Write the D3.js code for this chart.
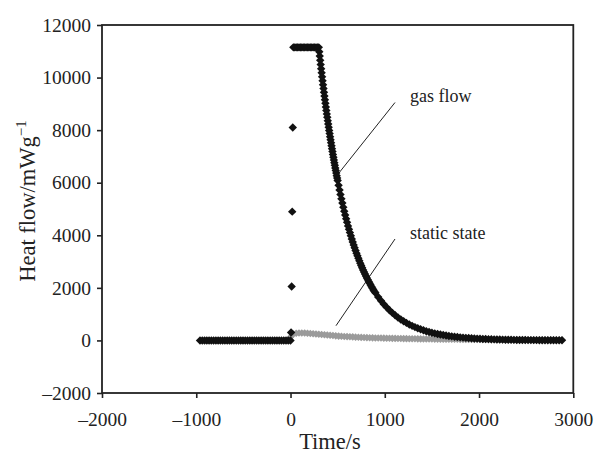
<!DOCTYPE html>
<html>
<head>
<meta charset="utf-8">
<script src="https://cdn.jsdelivr.net/npm/d3@7"></script>
<style>
  body { margin: 0; background: #fff; }
  svg { display: block; font-family: "Liberation Serif", "Times New Roman", serif; }
</style>
</head>
<body>
<div id="chart"></div>
<script>
// Gas flow series (time in s, heat flow in mW/g)
const baselineTime = [-960,-936,-912,-888,-864,-840,-816,-792,-768,-744,-720,-696,-672,-648,-624,-600,-576,-552,-528,-504,-480,-456,-432,-408,-384,-360,-336,-312,-288,-264,-240,-216,-192,-168,-144,-120,-96,-72,-48,-24,0];
const baselineFlow = [0,0,0,0,0,0,0,0,0,0,0,0,0,0,0,0,0,0,0,0,0,0,0,0,0,0,0,0,0,0,0,0,0,0,0,0,0,0,0,0,0];
const jumpTime = [6,12,18,24];
const jumpFlow = [300,2050,4900,8100];
const plateauTime = [30,45,60,75,90,105,120,135,150,165,180,195,210,225,240,255,270,285,300];
const plateauFlow = [11150,11150,11150,11150,11150,11150,11150,11150,11150,11150,11150,11150,11150,11150,11150,11150,11150,11150,11150];
const decayTime = [305,310,315,320,325,330,335,340,345,350,355,360,365,370,375,380,385,390,395,400,
  405,410,415,420,425,430,435,440,445,450,455,460,465,470,475,480,485,490,495,500,
  510,520,530,540,550,560,570,580,590,600,610,620,630,640,650,660,670,680,690,700,
  710,720,730,740,750,760,770,780,790,800,810,820,830,840,850,860,870,880,890,900,
  930,960,990,1020,1050,1080,1110,1140,1170,1200,1230,1260,1290,1320,1350,1380,1410,1440,1470,1500,
  1530,1560,1590,1620,1650,1680,1710,1740,1770,1800,1830,1860,1890,1920,1950,1980,2010,2040,2070,2100,
  2130,2160,2190,2220,2250,2280,2310,2340,2370,2400,2430,2460,2490,2520,2550,2580,2610,2640,2670,2700,
  2730,2760,2790,2820,2850,2880];
const decayFlow = [10982,10817,10655,10494,10336,10181,10028,9877,9729,9582,9438,9296,9157,9019,8883,8750,8618,8488,8361,8235,
  8111,7989,7869,7751,7634,7520,7406,7295,7185,7077,6971,6866,6763,6661,6561,6462,6365,6269,6175,6082,
  5900,5724,5553,5387,5226,5070,4919,4772,4630,4492,4358,4228,4102,3980,3861,3746,3634,3526,3421,3319,
  3220,3124,3031,2940,2852,2767,2684,2604,2526,2451,2378,2307,2238,2171,2106,2043,1982,1923,1866,1810,
  1653,1509,1378,1258,1149,1049,958,875,799,729,666,608,555,507,463,423,386,352,322,294,
  268,245,224,204,187,170,156,142,130,118,108,99,90,82,75,69,63,57,52,48,
  44,40,36,33,30,27,25,23,21,19,17,16,15,13,12,11,10,9,8,8,
  7,6,6,5,5,4];

// Static state series
const staticTime = [0,30,60,90,120,150,180,210,240,270,300,330,360,390,420,450,480,510,540,570,
  600,630,660,690,720,750,780,810,840,870,900,930,960,990,1020,1050,1080,1110,1140,1170,
  1200,1230,1260,1290,1320,1350,1380,1410,1440,1470,1500,1530,1560,1590,1620,1650,1680,1710,1740,1770,
  1800,1830,1860,1890,1920,1950,1980,2010,2040,2070,2100,2130,2160,2190,2220,2250,2280,2310,2340,2370,
  2400,2430,2460,2490,2520,2550,2580,2610,2640,2670,2700,2730,2760,2790,2820,2850,2880];
const staticFlow = [130,240,275,285,285,280,275,265,255,245,235,225,215,205,195,185,175,165,160,150,
  145,140,135,125,120,115,110,105,100,98,95,92,90,87,85,82,80,78,75,73,
  70,68,66,64,62,60,58,57,55,54,52,51,50,48,47,46,45,44,43,42,
  41,40,39,38,37,36,35,34,34,33,32,31,31,30,29,29,28,27,27,26,
  26,25,25,24,24,23,23,22,22,21,21,20,20,20,19,19,18];

const xTicks = [-2000,-1000,0,1000,2000,3000];
const yTicks = [-2000,0,2000,4000,6000,8000,10000,12000];

const width = 597, height = 455;
const margin = { top: 25, right: 24, bottom: 62, left: 102 };
const serif = "'Liberation Serif', 'Times New Roman', serif";

const svg = d3.select("#chart").append("svg")
    .attr("width", width).attr("height", height);

const x = d3.scaleLinear().domain([-2000, 3000]).range([margin.left, width - margin.right + 0.3]);
const y = d3.scaleLinear().domain([-2000, 12000]).range([height - margin.bottom, margin.top]);

const zip = (ts, vs) => ts.map((t, i) => ({ t: t, v: vs[i] }));
const gasData = [].concat(
    zip(baselineTime, baselineFlow),
    zip(jumpTime, jumpFlow),
    zip(plateauTime, plateauFlow),
    zip(decayTime, decayFlow));
const staticData = zip(staticTime, staticFlow);

const diamond = r => `M0,${-r}L${r},0L0,${r}L${-r},0Z`;
const fmt = d => d < 0 ? "\u2013" + Math.abs(d) : String(d);

// annotation lines
svg.append("line").attr("x1", 338.5).attr("y1", 173.5).attr("x2", 395).attr("y2", 102.5)
    .attr("stroke", "#222").attr("stroke-width", 1);
svg.append("line").attr("x1", 336).attr("y1", 325.7).attr("x2", 395).attr("y2", 239)
    .attr("stroke", "#222").attr("stroke-width", 1);

// static state (grey) under the gas flow markers
svg.append("g").selectAll("path").data(staticData).join("path")
    .attr("transform", d => `translate(${x(d.t)},${y(d.v)})`)
    .attr("d", diamond(3.8))
    .attr("fill", "#9b9b9b");

svg.append("g").selectAll("path").data(gasData).join("path")
    .attr("transform", d => `translate(${x(d.t)},${y(d.v)})`)
    .attr("d", diamond(4.2))
    .attr("fill", "#111");

// axes
const xAxis = svg.append("g")
    .attr("transform", `translate(0,${y(-2000)})`)
    .call(d3.axisBottom(x).tickValues(xTicks).tickSize(5).tickSizeOuter(0).tickPadding(14).tickFormat(fmt));
const yAxis = svg.append("g")
    .attr("transform", `translate(${x(-2000)},0)`)
    .call(d3.axisLeft(y).tickValues(yTicks).tickSize(5).tickSizeOuter(0).tickPadding(6).tickFormat(fmt));

[xAxis, yAxis].forEach(axis => {
    axis.attr("font-family", serif).attr("font-size", 19.5);
    axis.select(".domain").remove();
    axis.selectAll("line").attr("stroke", "#222").attr("stroke-width", 1.6);
    axis.selectAll("text").attr("fill", "#222");
});

// frame
svg.append("rect")
    .attr("x", x(-2000)).attr("y", y(12000))
    .attr("width", x(3000) - x(-2000)).attr("height", y(-2000) - y(12000))
    .attr("fill", "none").attr("stroke", "#222").attr("stroke-width", 1.8);

// titles
svg.append("text").attr("x", 330).attr("y", 449).attr("text-anchor", "middle")
    .attr("font-family", serif).attr("font-size", 22.5).attr("fill", "#222").text("Time/s");

const yTitle = svg.append("text")
    .attr("transform", "translate(35,201) rotate(-90)")
    .attr("text-anchor", "middle")
    .attr("font-family", serif).attr("font-size", 22.5).attr("fill", "#222");
yTitle.append("tspan").text("Heat flow/mWg");
yTitle.append("tspan").attr("dy", -9).attr("font-size", 15).text("\u22121");

// annotations
svg.append("text").attr("x", 410).attr("y", 101.5)
    .attr("font-family", serif).attr("font-size", 18).attr("fill", "#222").text("gas flow");
svg.append("text").attr("x", 410).attr("y", 239)
    .attr("font-family", serif).attr("font-size", 18).attr("fill", "#222").text("static state");
</script>
</body>
</html>
